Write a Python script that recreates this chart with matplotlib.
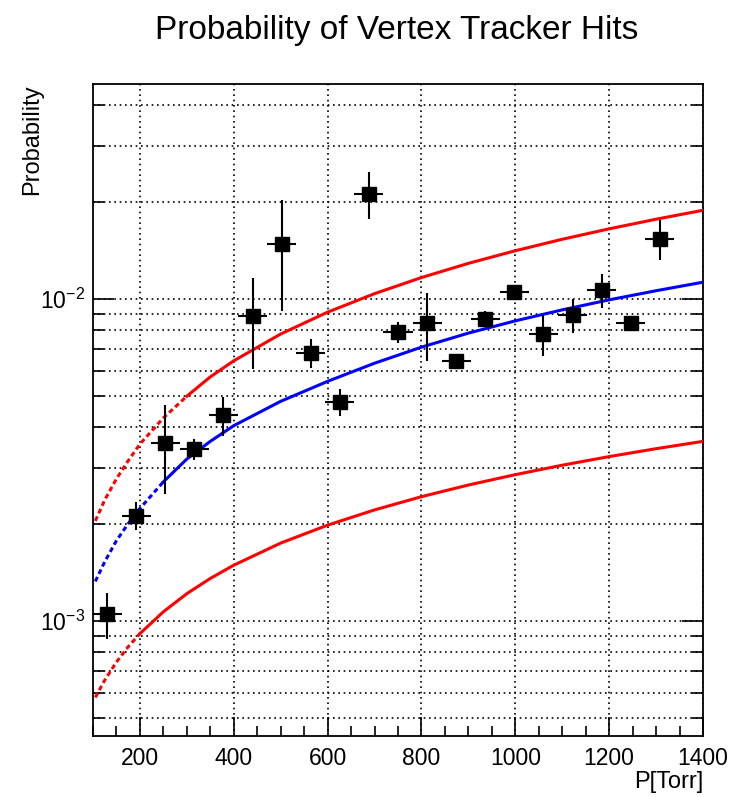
import numpy as np
import matplotlib
matplotlib.use('Agg')
import matplotlib.pyplot as plt
from matplotlib.ticker import FixedLocator, MultipleLocator, LogLocator, NullFormatter

# measured hit probability per pressure bin
pressure = [130, 192, 254, 316, 378, 440, 502, 564, 626, 688,
            750, 812, 874, 936, 998, 1060, 1122, 1184, 1246, 1308]
prob = [1.05e-3, 2.13e-3, 3.59e-3, 3.42e-3, 4.36e-3, 8.87e-3, 1.48e-2, 6.81e-3, 4.80e-3, 2.13e-2,
        7.93e-3, 8.43e-3, 6.43e-3, 8.69e-3, 1.05e-2, 7.81e-3, 8.95e-3, 1.07e-2, 8.41e-3, 1.54e-2]
prob_err = [0.17e-3, 0.21e-3, 1.1e-3, 0.25e-3, 0.6e-3, 2.8e-3, 5.6e-3, 0.7e-3, 0.45e-3, 3.6e-3,
            0.6e-3, 2.0e-3, 0.35e-3, 0.5e-3, 0.45e-3, 1.15e-3, 1.1e-3, 1.3e-3, 0.4e-3, 2.2e-3]
bin_half = 31

# expectation curves (central, upper and lower band)
curve_x = [105, 125, 150, 175, 200, 250, 300, 350, 400, 500, 600, 700,
           800, 900, 1000, 1100, 1200, 1300, 1400]
curve_mid = [1.33e-3, 1.53e-3, 1.78e-3, 2.01e-3, 2.24e-3, 2.71e-3, 3.19e-3, 3.62e-3, 4.05e-3,
             4.82e-3, 5.56e-3, 6.33e-3, 7.10e-3, 7.85e-3, 8.57e-3, 9.27e-3, 9.96e-3, 1.063e-2, 1.13e-2]
curve_high = [2.05e-3, 2.38e-3, 2.77e-3, 3.15e-3, 3.55e-3, 4.28e-3, 5.00e-3, 5.74e-3, 6.44e-3,
              7.80e-3, 9.12e-3, 1.041e-2, 1.168e-2, 1.293e-2, 1.415e-2, 1.536e-2, 1.655e-2, 1.773e-2, 1.89e-2]
curve_low = [5.80e-4, 6.56e-4, 7.47e-4, 8.33e-4, 9.15e-4, 1.070e-3, 1.218e-3, 1.358e-3, 1.493e-3,
             1.749e-3, 1.988e-3, 2.217e-3, 2.437e-3, 2.649e-3, 2.853e-3, 3.052e-3, 3.246e-3, 3.435e-3, 3.62e-3]

plt.rcParams['font.family'] = ['Liberation Sans', 'DejaVu Sans']
plt.rcParams['mathtext.fontset'] = 'custom'
plt.rcParams['mathtext.rm'] = 'Liberation Sans'
plt.rcParams['mathtext.it'] = 'Liberation Sans:italic'


def draw_curve(ax, x, y, color, x_dash):
    x = np.asarray(x)
    y = np.asarray(y)
    left = x <= x_dash
    right = x >= x_dash
    ax.plot(x[left], y[left], color=color, lw=2.2, dashes=(1.6, 1.1), zorder=3)
    ax.plot(x[right], y[right], color=color, lw=2.2, zorder=3)


def main():
    fig = plt.figure(figsize=(7.31, 7.97), dpi=100)
    ax = fig.add_axes([0.1272, 0.0765, 0.8345, 0.818])

    ax.set_yscale('log')
    ax.set_xlim(100, 1400)
    ax.set_ylim(4.4e-4, 4.66e-2)

    draw_curve(ax, curve_x, curve_high, '#ff0000', 300)
    draw_curve(ax, curve_x, curve_mid, '#0000ff', 250)
    draw_curve(ax, curve_x, curve_low, '#ff0000', 200)

    ax.errorbar(pressure, prob, yerr=prob_err, xerr=bin_half, fmt='s', color='black',
                ms=9.5, elinewidth=1.5, capsize=0, zorder=4)

    ax.xaxis.set_major_locator(FixedLocator([200, 400, 600, 800, 1000, 1200, 1400]))
    ax.xaxis.set_minor_locator(MultipleLocator(50))
    ax.yaxis.set_major_locator(LogLocator(base=10))
    ax.yaxis.set_minor_locator(LogLocator(base=10, subs=range(2, 10)))
    ax.yaxis.set_minor_formatter(NullFormatter())

    ax.tick_params(which='both', direction='in', labelsize=16.5, right=True, width=1.2)
    ax.tick_params(axis='x', which='major', length=14, pad=8)
    ax.tick_params(axis='x', which='minor', length=7)
    ax.tick_params(axis='y', which='major', length=15, pad=6)
    ax.tick_params(axis='y', which='minor', length=8)

    grid_style = dict(color='black', lw=1.2, linestyle=(0, (1, 2.2)))
    ax.grid(True, which='major', axis='x', **grid_style)
    ax.grid(True, which='both', axis='y', **grid_style)
    ax.set_axisbelow(True)

    for s in ax.spines.values():
        s.set_linewidth(1.3)

    fig.text(397 / 731, 1 - 31 / 797, 'Probability of Vertex Tracker Hits',
             ha='center', va='center', fontsize=24)
    fig.text(32 / 731, 1 - 84 / 797, 'Probability', rotation=90,
             ha='center', va='top', fontsize=17)
    fig.text(703 / 731, 1 - 782 / 797, 'P[Torr]', ha='right', va='center', fontsize=17)

    plt.savefig('out.png', dpi=100)


if __name__ == '__main__':
    main()
